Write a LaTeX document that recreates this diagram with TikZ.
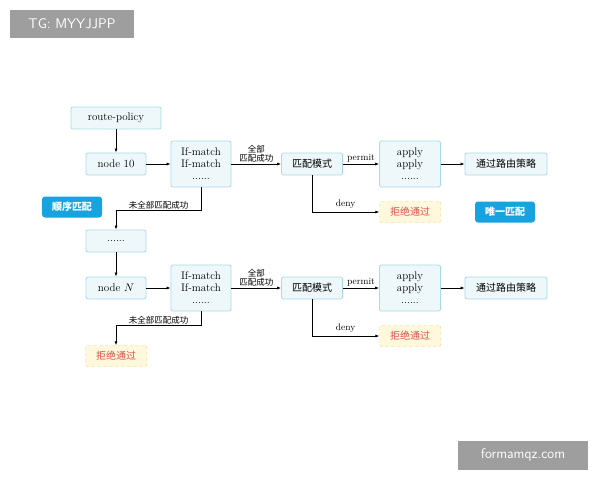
\documentclass[tikz,border=0pt]{standalone}
\usepackage{fontspec}
\newfontfamily\cjk{Noto Sans CJK SC}
\usetikzlibrary{arrows.meta}
\definecolor{bfill}{HTML}{EEF8FB}
\definecolor{bdraw}{HTML}{A9D9E8}
\definecolor{badge}{HTML}{17A3E0}
\definecolor{yfill}{HTML}{FFF8DC}
\definecolor{ydraw}{HTML}{EDC860}
\definecolor{rtext}{HTML}{E0504A}
\begin{document}
\begin{tikzpicture}[x=1pt,y=-1pt,
 box/.style={draw=bdraw,fill=bfill,rounded corners=2pt,minimum width=60pt,minimum height=22pt,font=\fontsize{11}{11}\selectfont,inner sep=1pt,line width=0.8pt},
 tall/.style={box,minimum height=46pt,align=center,font=\fontsize{11}{12}\selectfont},
 cj/.style={font=\cjk\fontsize{10}{10}\selectfont},
 badge/.style={fill=badge,text=white,rounded corners=3pt,minimum width=60pt,minimum height=21pt,font=\cjk\bfseries\fontsize{10}{10}\selectfont},
 rej/.style={draw=ydraw,fill=yfill,dashed,rounded corners=2pt,minimum width=61pt,minimum height=21pt,text=rtext,font=\cjk\fontsize{10}{10}\selectfont},
 arr/.style={-{Latex[length=4pt,width=3pt]},line width=0.7pt},
 lab/.style={font=\cjk\fontsize{8.5}{9.5}\selectfont,inner sep=1pt},
 elab/.style={font=\fontsize{9.5}{10}\selectfont,inner sep=1pt},
 wm/.style={fill=black!38,text=white,font=\sffamily\fontsize{14}{14}\selectfont}]
\useasboundingbox (0,0) rectangle (600,480);
\node[wm,minimum width=124pt,minimum height=28pt] (tg) at (72,24) {TG: MYYJJPP};
\node[wm,minimum width=130pt,minimum height=29pt] (fm) at (523,455) {formamqz.com};
\node[box,minimum width=90pt] (rp) at (116,118) {route-policy};
\node[box] (n10) at (116,164) {node 10};
\node[tall] (m1) at (201,164) {If-match\\If-match\\......};
\node[box,minimum width=61pt,cj] (p1) at (312,164) {匹配模式};
\node[tall,minimum width=61pt] (a1) at (410,164) {apply\\apply\\......};
\node[box,minimum width=82pt,cj] (t1) at (506,164) {通过路由策略};
\node[rej] (r1) at (410,212) {拒绝通过};
\node[badge] (s) at (72,207) {顺序匹配};
\node[badge] (u) at (505,212) {唯一匹配};
\node[box] (dots) at (116,241) {......};
\node[box] (nN) at (116,288) {node $N$};
\node[tall] (m2) at (201,288) {If-match\\If-match\\......};
\node[box,minimum width=61pt,cj] (p2) at (312,288) {匹配模式};
\node[tall,minimum width=61pt] (a2) at (410,288) {apply\\apply\\......};
\node[box,minimum width=82pt,cj] (t2) at (506,288) {通过路由策略};
\node[rej] (r2) at (410,336) {拒绝通过};
\node[rej] (r3) at (116,356) {拒绝通过};
\draw[arr] (rp) -- (n10);
\draw[arr] (n10) -- (m1);
\draw[arr] (m1) -- node[lab,above,align=center]{全部\\匹配成功} (p1);
\draw[arr] (p1) -- node[elab,above]{permit} (a1);
\draw[arr] (a1) -- (t1);
\draw[arr] (p1.south) |- node[elab,pos=0.75,above=2pt]{deny} (r1.west);
\draw[arr] (m1.south) -- ++(0,23) -| node[lab,pos=0.25,above]{未全部匹配成功} (dots.north);
\draw[arr] (dots) -- (nN);
\draw[arr] (nN) -- (m2);
\draw[arr] (m2) -- node[lab,above,align=center]{全部\\匹配成功} (p2);
\draw[arr] (p2) -- node[elab,above]{permit} (a2);
\draw[arr] (a2) -- (t2);
\draw[arr] (p2.south) |- node[elab,pos=0.75,above=2pt]{deny} (r2.west);
\draw[arr] (m2.south) -- ++(0,14) -| node[lab,pos=0.25,above]{未全部匹配成功} (r3.north);
\end{tikzpicture}
\end{document}
